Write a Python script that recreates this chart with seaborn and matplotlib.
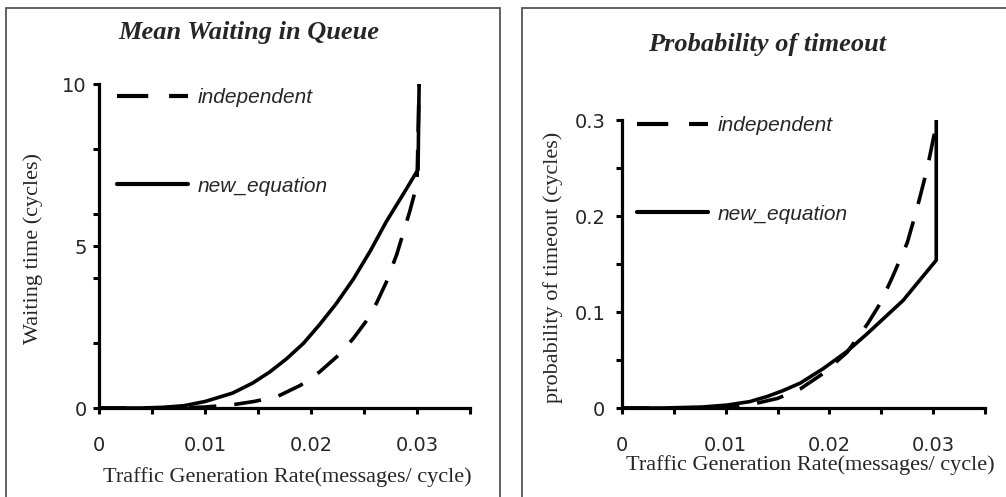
import numpy as np
import pandas as pd
import matplotlib
matplotlib.use("Agg")
import matplotlib.pyplot as plt
from matplotlib.lines import Line2D
from matplotlib.patches import Rectangle
from matplotlib.ticker import MultipleLocator
import seaborn as sns

# ---- data ----
# Mean waiting in queue (cycles)
wait_new_x = [0, 0.002, 0.004, 0.006, 0.008, 0.010, 0.0126, 0.0145, 0.0161,
              0.0177, 0.0193, 0.0208, 0.0224, 0.0240, 0.0256, 0.0271, 0.0287,
              0.0301, 0.0302]
wait_new_y = [0, 0, 0, 0.02, 0.07, 0.2, 0.46, 0.77, 1.11,
              1.52, 2.0, 2.57, 3.23, 3.98, 4.85, 5.75, 6.6,
              7.36, 10]
wait_ind_x = [0, 0.004, 0.008, 0.010, 0.0126, 0.0146, 0.0168, 0.0190,
              0.0208, 0.0227, 0.0240, 0.0253, 0.0262, 0.0271, 0.0281, 0.0293,
              0.0300, 0.0302]
wait_ind_y = [0, 0, 0.01, 0.03, 0.1, 0.2, 0.35, 0.7,
              1.11, 1.66, 2.15, 2.72, 3.25, 3.88, 4.75, 6.05,
              6.9, 10]

# Probability of timeout
prob_new_x = [0, 0.004, 0.0077, 0.0101, 0.0123, 0.0140, 0.0155, 0.0172,
              0.0194, 0.0217, 0.0236, 0.0252, 0.0271, 0.0287, 0.0303, 0.0303]
prob_new_y = [0, 0, 0.001, 0.003, 0.0066, 0.012, 0.018, 0.026,
              0.041, 0.059, 0.077, 0.093, 0.112, 0.133, 0.154, 0.3]
prob_ind_x = [0, 0.008, 0.011, 0.013, 0.015, 0.0172, 0.0194, 0.0217,
              0.0237, 0.0249, 0.0261, 0.0275, 0.0284, 0.0294, 0.0302, 0.0303]
prob_ind_y = [0, 0, 0.002, 0.005, 0.010, 0.020, 0.036, 0.058,
              0.088, 0.109, 0.137, 0.172, 0.206, 0.248, 0.29, 0.3]

series_names = ["independent", "new_equation"]
x_ticks = [0, 0.01, 0.02, 0.03]
x_tick_labels = ["0", "0.01", "0.02", "0.03"]
wait_ticks = [0, 5, 10]
prob_ticks = [0, 0.1, 0.2, 0.3]
prob_tick_labels = ["0", "0.1", "0.2", "0.3"]

W, H = 1006, 497
DASH = (0, (7.5, 5))
LW = 2.6

sns.set_style("white")
plt.rcParams["font.family"] = ["DejaVu Sans"]

fig = plt.figure(figsize=(W / 100, H / 100), dpi=100)


def px_axes(x0, y_top, x1, y_bot):
    return fig.add_axes([x0 / W, 1 - y_bot / H, (x1 - x0) / W, (y_bot - y_top) / H])


def style_axes(ax, ylim, ymajor, yminor, ylabels, ypad):
    ax.set_xlim(0, 0.035)
    ax.set_ylim(*ylim)
    for s in ["top", "right"]:
        ax.spines[s].set_visible(False)
    for s in ["left", "bottom"]:
        ax.spines[s].set_linewidth(2.3)
        ax.spines[s].set_color("black")
    ax.set_xticks(x_ticks)
    ax.set_xticklabels(x_tick_labels)
    ax.xaxis.set_minor_locator(MultipleLocator(0.005))
    ax.set_yticks(ymajor)
    ax.set_yticklabels(ylabels)
    ax.yaxis.set_minor_locator(MultipleLocator(yminor))
    ax.tick_params(which="both", direction="out", width=2.2, length=4,
                   color="black", labelsize=14)
    ax.tick_params(axis="x", which="both", bottom=True, pad=16)
    ax.tick_params(axis="y", which="both", left=True, pad=ypad)
    ax.set_xlabel("")
    ax.set_ylabel("")
    ax.patch.set_alpha(0)


def draw_lines(ax, ind_x, ind_y, new_x, new_y):
    sns.lineplot(x=ind_x, y=ind_y, ax=ax, color="black", linewidth=LW,
                 linestyle=DASH, sort=False, estimator=None)
    sns.lineplot(x=new_x, y=new_y, ax=ax, color="black", linewidth=LW,
                 sort=False, estimator=None)


def add_legend(ax, x_px, y_px):
    handles = [Line2D([], [], color="black", linewidth=LW + 0.4, linestyle=DASH),
               Line2D([], [], color="black", linewidth=LW + 0.4)]
    ax.legend(handles, series_names, loc="upper left",
              bbox_to_anchor=(x_px / W, 1 - y_px / H), bbox_transform=fig.transFigure,
              frameon=False, borderpad=0, borderaxespad=0, handlelength=3.4,
              handletextpad=0.45, labelspacing=3.35,
              prop={"family": "Liberation Sans", "style": "italic", "size": 15})


# panel frames
fig.patches.append(Rectangle((6 / W, -0.02), (500 - 6) / W, 1 - 8 / H + 0.02,
                             transform=fig.transFigure, fill=False,
                             edgecolor="#555555", linewidth=1.3))
fig.patches.append(Rectangle((522 / W, -0.02), (1010 - 522) / W, 1 - 8 / H + 0.02,
                             transform=fig.transFigure, fill=False,
                             edgecolor="#555555", linewidth=1.3))

serif = "Liberation Serif"

# left: mean waiting in queue
ax1 = px_axes(99, 84, 470, 408)
draw_lines(ax1, wait_ind_x, wait_ind_y, wait_new_x, wait_new_y)
style_axes(ax1, (0, 10), wait_ticks, 2, ["0", "5", "10"], 5)
add_legend(ax1, 117, 88)
fig.text(249 / W, 1 - 33 / H, "Mean Waiting in Queue", ha="center", va="center",
         family=serif, weight="bold", style="italic", size=19)
fig.text(33 / W, 1 - 248 / H, "Waiting time (cycles)", ha="center", va="center",
         rotation=90, family=serif, size=16)
fig.text(287 / W, 1 - 477 / H, "Traffic Generation Rate(messages/ cycle)",
         ha="center", va="center", family=serif, size=16)

# right: probability of timeout
ax2 = px_axes(622, 120, 985, 408)
draw_lines(ax2, prob_ind_x, prob_ind_y, prob_new_x, prob_new_y)
style_axes(ax2, (0, 0.3), prob_ticks, 0.05, prob_tick_labels, 8)
add_legend(ax2, 637, 116)
fig.text(767 / W, 1 - 45 / H, "Probability of timeout", ha="center", va="center",
         family=serif, weight="bold", style="italic", size=19)
fig.text(553 / W, 1 - 267 / H, "probability of timeout (cycles)", ha="center",
         va="center", rotation=90, family=serif, size=16)
fig.text(810 / W, 1 - 465 / H, "Traffic Generation Rate(messages/ cycle)",
         ha="center", va="center", family=serif, size=16)

fig.savefig("out.png", dpi=100, facecolor="white")
